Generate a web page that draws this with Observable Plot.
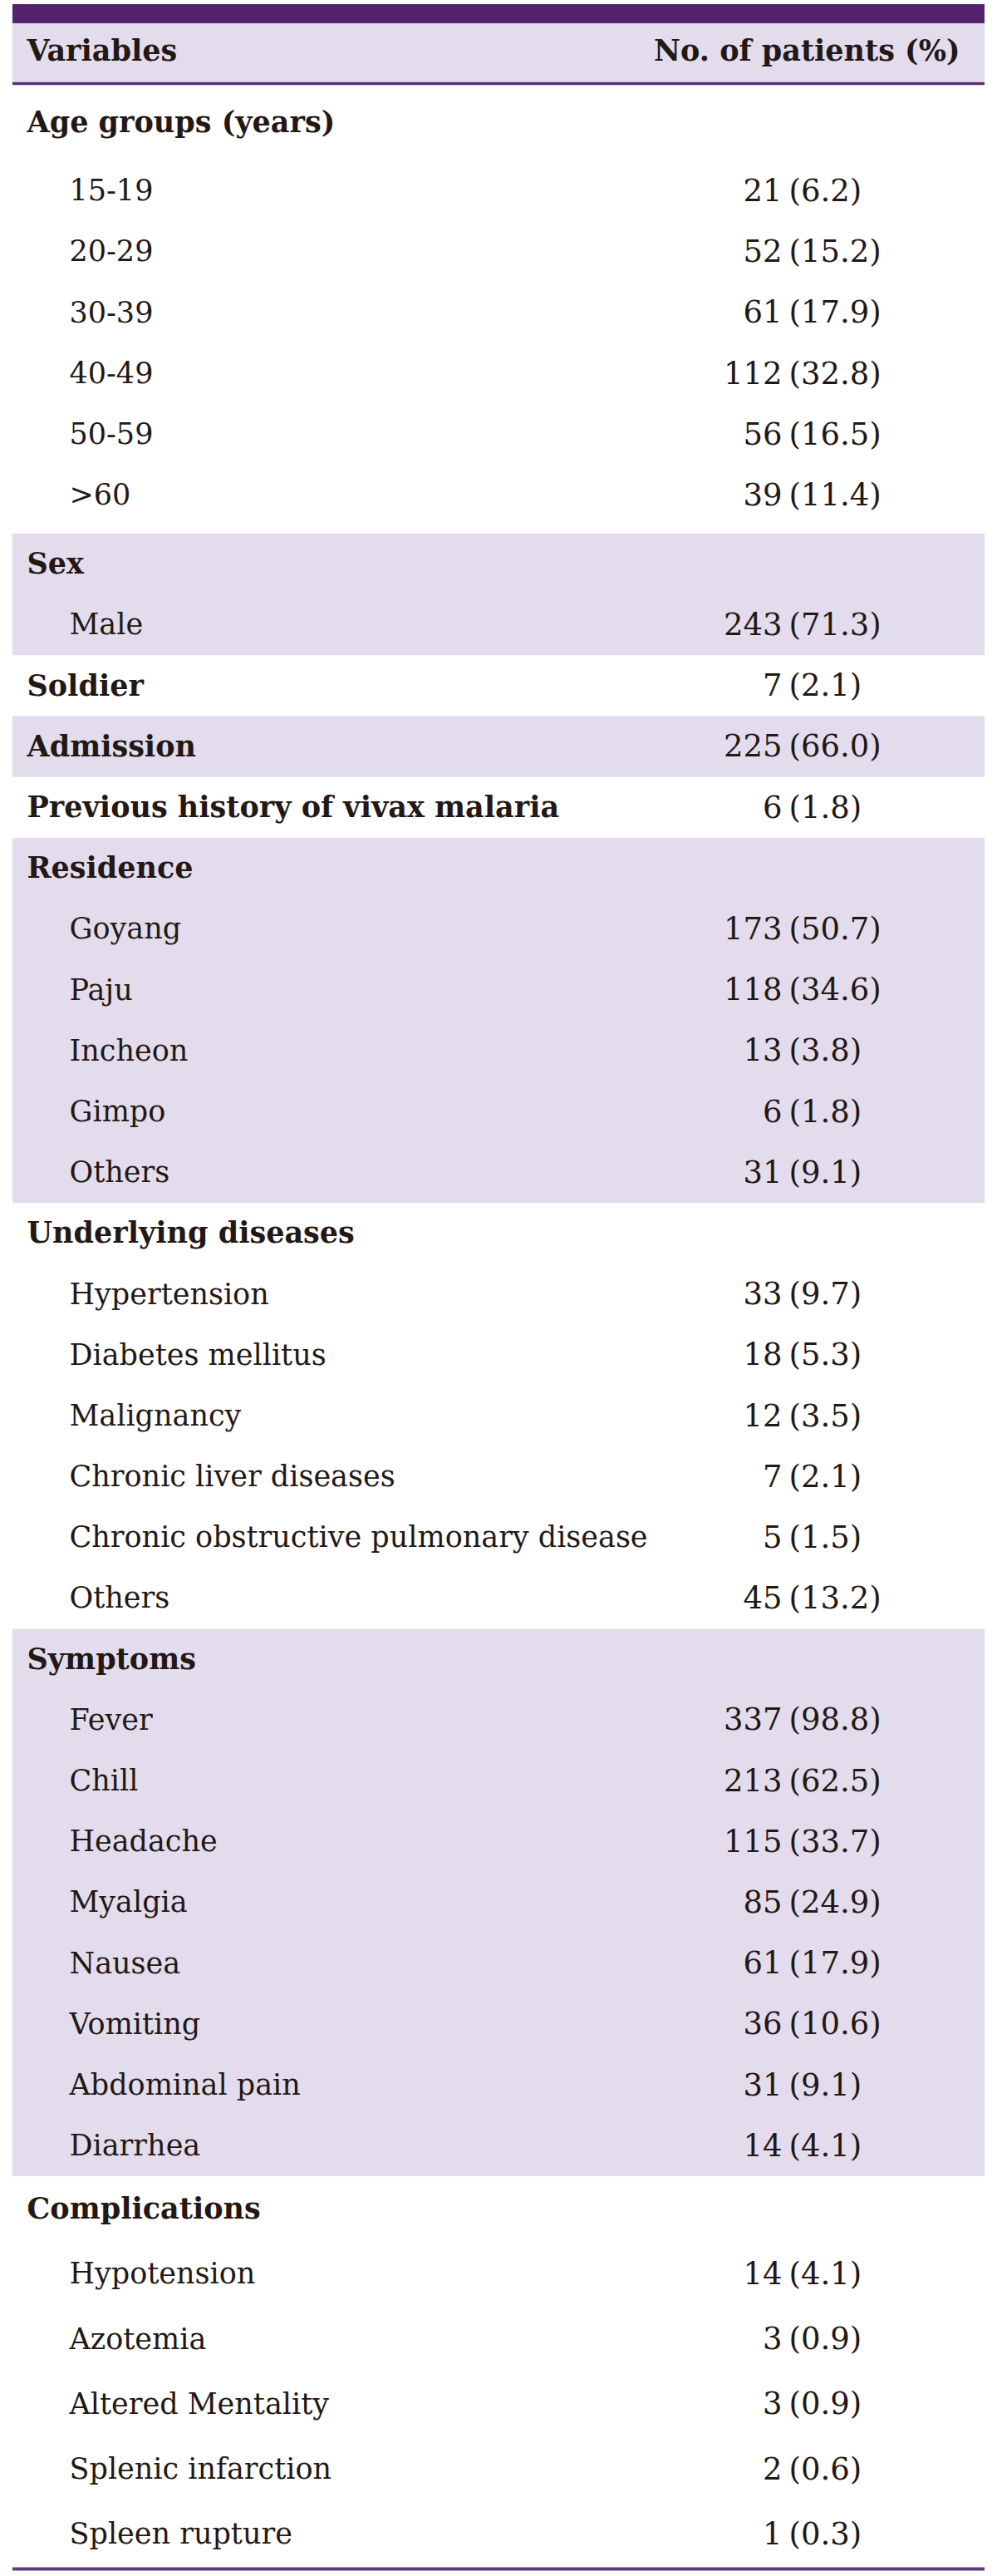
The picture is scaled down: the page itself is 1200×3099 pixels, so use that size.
<!DOCTYPE html>
<html>
<head>
<meta charset="utf-8">
<script src="https://cdn.jsdelivr.net/npm/d3@7"></script>
<script src="https://cdn.jsdelivr.net/npm/@observablehq/plot@0.6"></script>
<style>
  html, body { margin: 0; padding: 0; background: #ffffff; }
  #chart svg { display: block; }
</style>
</head>
<body>
<div id="chart"></div>
<script>
// ---------- data ----------
const headerLabels = ["Variables", "No. of patients (%)"];
const sectionTitles = ["Age groups (years)", "Sex", "Soldier", "Admission",
  "Previous history of vivax malaria", "Residence", "Underlying diseases",
  "Symptoms", "Complications"];

const ageLabels = ["15-19", "20-29", "30-39", "40-49", "50-59", ">60"];
const ageCounts = [21, 52, 61, 112, 56, 39];
const agePct = [6.2, 15.2, 17.9, 32.8, 16.5, 11.4];

const sexLabels = ["Male"];
const sexCounts = [243];
const sexPct = [71.3];

const soldierCount = [7];
const soldierPct = [2.1];
const admissionCount = [225];
const admissionPct = [66.0];
const previousCount = [6];
const previousPct = [1.8];

const residenceLabels = ["Goyang", "Paju", "Incheon", "Gimpo", "Others"];
const residenceCounts = [173, 118, 13, 6, 31];
const residencePct = [50.7, 34.6, 3.8, 1.8, 9.1];

const diseaseLabels = ["Hypertension", "Diabetes mellitus", "Malignancy",
  "Chronic liver diseases", "Chronic obstructive pulmonary disease", "Others"];
const diseaseCounts = [33, 18, 12, 7, 5, 45];
const diseasePct = [9.7, 5.3, 3.5, 2.1, 1.5, 13.2];

const symptomLabels = ["Fever", "Chill", "Headache", "Myalgia", "Nausea",
  "Vomiting", "Abdominal pain", "Diarrhea"];
const symptomCounts = [337, 213, 115, 85, 61, 36, 31, 14];
const symptomPct = [98.8, 62.5, 33.7, 24.9, 17.9, 10.6, 9.1, 4.1];

const complicationLabels = ["Hypotension", "Azotemia", "Altered Mentality",
  "Splenic infarction", "Spleen rupture"];
const complicationCounts = [14, 3, 3, 2, 1];
const complicationPct = [4.1, 0.9, 0.9, 0.6, 0.3];

// ---------- layout constants ----------
const W = 1200, H = 3099;
const tableLeft = 15, tableRight = 1185;
const titleX = 32, itemX = 83, countEndX = 941, pctStartX = 949, headRightX = 1155;
const topBarTop = 5, topBarBottom = 28, headBandBottom = 98, headRuleY = 100;
const bodyTop = 102, bottomRuleY = 3090;
const pitch = 73.19;

const purple = "#54226f";
const lavender = "#e2dcec";
const ink = "#231815";
const font = "DejaVu Serif";
const fs = 35;
const fsValue = 37;

// ---------- build rows ----------
const sectionItems = [
  {labels: ageLabels, counts: ageCounts, pct: agePct},
  {labels: sexLabels, counts: sexCounts, pct: sexPct},
  {single: true, counts: soldierCount, pct: soldierPct},
  {single: true, counts: admissionCount, pct: admissionPct},
  {single: true, counts: previousCount, pct: previousPct},
  {labels: residenceLabels, counts: residenceCounts, pct: residencePct},
  {labels: diseaseLabels, counts: diseaseCounts, pct: diseasePct},
  {labels: symptomLabels, counts: symptomCounts, pct: symptomPct},
  {labels: complicationLabels, counts: complicationCounts, pct: complicationPct}
];

function rowHeight(s, i) {
  if (s === 0) return i === 0 ? 91 : pitch;
  if (s === sectionItems.length - 1) return 78.3;
  return pitch;
}
const sectionPad = s => (s === 0 ? 9.8 : 0);

const rows = [];
const bands = [];
let cursor = bodyTop;
sectionItems.forEach((sec, s) => {
  const top = cursor;
  let h = rowHeight(s, 0);
  rows.push({label: sectionTitles[s], bold: true, yc: cursor + h / 2,
    count: sec.single ? sec.counts[0] : null, pct: sec.single ? sec.pct[0] : null});
  cursor += h;
  if (!sec.single) {
    sec.labels.forEach((lab, j) => {
      const hh = rowHeight(s, j + 1);
      rows.push({label: lab, bold: false, yc: cursor + hh / 2,
        count: sec.counts[j], pct: sec.pct[j]});
      cursor += hh;
    });
  }
  cursor += sectionPad(s);
  if (s % 2 === 1) bands.push({y1: top, y2: cursor});
});

const valueRows = rows.filter(d => d.count != null);
const headY = (topBarBottom + headBandBottom) / 2 - 2;

const chart = Plot.plot({
  width: W,
  height: H,
  margin: 0,
  x: {type: "linear", domain: [0, W], range: [0, W], axis: null},
  y: {type: "linear", domain: [0, H], range: [0, H], axis: null},
  style: {background: "#ffffff", fontFamily: font},
  marks: [
    Plot.rect([0], {x1: tableLeft, x2: tableRight, y1: topBarTop, y2: topBarBottom, fill: purple}),
    Plot.rect([0], {x1: tableLeft, x2: tableRight, y1: topBarBottom, y2: headBandBottom, fill: lavender}),
    Plot.ruleY([headRuleY], {x1: tableLeft, x2: tableRight, stroke: "#5a2b78", strokeWidth: 3.5}),
    Plot.rect(bands, {x1: tableLeft, x2: tableRight, y1: "y1", y2: "y2", fill: lavender}),
    Plot.ruleY([bottomRuleY], {x1: tableLeft, x2: tableRight, stroke: "#5e3c85", strokeWidth: 4}),
    Plot.text([headerLabels[0]], {x: titleX, y: headY, text: d => d, textAnchor: "start",
      fontSize: fs, fontWeight: "bold", fill: ink}),
    Plot.text([headerLabels[1]], {x: headRightX, y: headY, text: d => d, textAnchor: "end",
      fontSize: fs, fontWeight: "bold", fill: ink}),
    Plot.text(rows.filter(d => d.bold), {x: titleX, y: "yc", text: "label", textAnchor: "start",
      fontSize: fs, fontWeight: "bold", fill: ink}),
    Plot.text(rows.filter(d => !d.bold), {x: itemX, y: "yc", text: "label", textAnchor: "start",
      fontSize: fs, fill: ink}),
    Plot.text(valueRows, {x: countEndX, y: "yc", text: d => String(d.count), textAnchor: "end",
      fontSize: fsValue, fill: ink}),
    Plot.text(valueRows, {x: pctStartX, y: "yc", text: d => "(" + d.pct.toFixed(1) + ")", textAnchor: "start",
      fontSize: fsValue, fill: ink})
  ]
});
document.getElementById("chart").appendChild(chart);
</script>
</body>
</html>
